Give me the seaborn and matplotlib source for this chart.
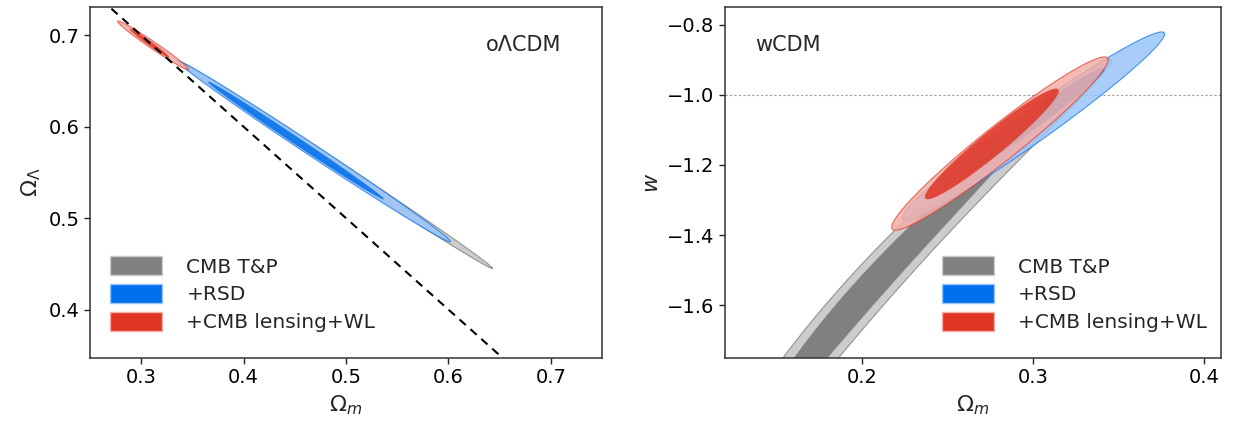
import numpy as np
import matplotlib
matplotlib.use("Agg")
import matplotlib.pyplot as plt
import seaborn as sns
from matplotlib.patches import Patch

sns.set_style("ticks")
plt.rcParams['font.family'] = ['DejaVu Sans']
plt.rcParams['mathtext.fontset'] = 'dejavusans'

# ---------------- data ----------------
labels = ["CMB T&P", "+RSD", "+CMB lensing+WL"]
colors = ["#808080", "#006FED", "#E03424"]
alphas = [1.0, 0.85, 0.85]

# oLCDM panel: one entry per dataset, each [95% contour, 68% contour]
olcdm_cx = [[0.4895, 0.455], [0.4683, 0.451], [0.3116, 0.308]]
olcdm_cy = [[0.5585, 0.580], [0.5734, 0.585], [0.689, 0.6915]]
olcdm_hx = [[0.1535, 0.070], [0.1337, 0.0856], [0.0346, 0.019]]
olcdm_hy = [[0.1135, 0.052], [0.0993, 0.0641], [0.0266, 0.0155]]
olcdm_rho = [[-0.9984, -0.9992], [-0.9969, -0.9975], [-0.9848, -0.985]]
flat_om = [0.25, 0.75]

# wCDM panel: +RSD and +CMB lensing+WL ellipses [95%, 68%]
wcdm_cx = [[0.3003, 0.295], [0.2807, 0.276]]
wcdm_cy = [[-1.089, -1.090], [-1.139, -1.140]]
wcdm_hx = [[0.0767, 0.0468], [0.0633, 0.039]]
wcdm_hy = [[0.268, 0.1665], [0.247, 0.157]]
wcdm_rho = [[0.978, 0.985], [0.966, 0.962]]
# wCDM panel: CMB T&P curved degeneracy band [95%, 68%]
cmb_band_wref = -1.4
cmb_band_x0 = 0.233
cmb_band_slope = 0.198
cmb_band_curv = 0.052
cmb_band_wc = [-1.55, -1.55]
cmb_band_hw = [0.65, 0.42]
cmb_band_hu = [0.0171, 0.011]
w_lcdm = -1.0


def pale(c, f=0.6):
    r = np.array(matplotlib.colors.to_rgb(c))
    return tuple(r * (1 - f) + f)


def ellipse(cx, cy, hx, hy, rho, n=400):
    t = np.linspace(0, 2 * np.pi, n)
    M = np.array([[hx * hx, rho * hx * hy], [rho * hx * hy, hy * hy]])
    L = np.linalg.cholesky(M)
    p = L @ np.vstack([np.cos(t), np.sin(t)])
    return cx + p[0], cy + p[1]


def band(wc, hw, hu, n=600):
    t = np.linspace(0, 2 * np.pi, n)
    v = wc + hw * np.sin(t)
    u = hu * np.cos(t)
    f = cmb_band_x0 + cmb_band_slope * (v - cmb_band_wref) + cmb_band_curv * (v - cmb_band_wref) ** 2
    return f + u, v


def draw(ax, outer, inner, col, a, z):
    ax.fill(*outer, color=pale(col), alpha=a, lw=0, zorder=z)
    ax.plot(*outer, color=col, alpha=a * 0.8, lw=0.8, zorder=z + 0.1)
    ax.fill(*inner, color=col, alpha=a, lw=0, zorder=z + 0.2)
    ax.plot(*inner, color=col, alpha=a * 0.6, lw=0.5, zorder=z + 0.3)


fig = plt.figure(figsize=(12.37, 4.30), dpi=100)
ax1 = fig.add_axes([0.0728, 0.1674, 0.4139, 0.8163])
ax2 = fig.add_axes([0.5861, 0.1674, 0.4010, 0.8163])

# ---- left panel ----
for i in range(3):
    o = ellipse(olcdm_cx[i][0], olcdm_cy[i][0], olcdm_hx[i][0], olcdm_hy[i][0], olcdm_rho[i][0])
    n = ellipse(olcdm_cx[i][1], olcdm_cy[i][1], olcdm_hx[i][1], olcdm_hy[i][1], olcdm_rho[i][1])
    draw(ax1, o, n, colors[i], alphas[i], 2 + i)
fo = np.array(flat_om)
sns.lineplot(x=fo, y=1 - fo, ax=ax1, color="black", lw=1.5, linestyle=(0, (4, 3)), zorder=10)
ax1.set_xlim(0.25, 0.75)
ax1.set_ylim(0.347, 0.731)
ax1.set_xticks([0.3, 0.4, 0.5, 0.6, 0.7])
ax1.set_yticks([0.4, 0.5, 0.6, 0.7])
ax1.set_xlabel(r"$\Omega_m$", fontsize=16)
ax1.set_ylabel(r"$\Omega_\Lambda$", fontsize=16)
ax1.text(0.92, 0.892, "o\u039bCDM", transform=ax1.transAxes, ha="right", va="center", fontsize=15)

# ---- right panel ----
o = band(cmb_band_wc[0], cmb_band_hw[0], cmb_band_hu[0])
n = band(cmb_band_wc[1], cmb_band_hw[1], cmb_band_hu[1])
draw(ax2, o, n, colors[0], alphas[0], 2)
for j in range(2):
    o = ellipse(wcdm_cx[j][0], wcdm_cy[j][0], wcdm_hx[j][0], wcdm_hy[j][0], wcdm_rho[j][0])
    n = ellipse(wcdm_cx[j][1], wcdm_cy[j][1], wcdm_hx[j][1], wcdm_hy[j][1], wcdm_rho[j][1])
    draw(ax2, o, n, colors[j + 1], alphas[j + 1], 3 + j)
ax2.axhline(w_lcdm, color="#999999", ls=(0, (2, 2)), lw=0.8, zorder=1)
ax2.set_xlim(0.12, 0.41)
ax2.set_ylim(-1.75, -0.75)
ax2.set_xticks([0.2, 0.3, 0.4])
ax2.set_yticks([-1.6, -1.4, -1.2, -1.0, -0.8])
ax2.set_xlabel(r"$\Omega_m$", fontsize=16)
ax2.set_ylabel(r"$w$", fontsize=16)
ax2.text(0.06, 0.892, "wCDM", transform=ax2.transAxes, ha="left", va="center", fontsize=15)

for ax, loc, anchor in [(ax1, "lower left", (0.023, 0.051)), (ax2, "lower right", (0.988, 0.051))]:
    handles = [Patch(facecolor=c, edgecolor=pale(c), label=l) for c, l in zip(colors, labels)]
    ax.legend(handles=handles, loc=loc, bbox_to_anchor=anchor, frameon=False, fontsize=14.5,
              handlelength=2.6, handleheight=1.1, labelspacing=0.36, handletextpad=1.2,
              borderaxespad=0.0)
    ax.tick_params(labelsize=14, direction="out", length=4, width=1, colors="#222222",
                   labelcolor="black")
    for s in ax.spines.values():
        s.set_linewidth(1.1)
        s.set_color("#333333")
        s.set_visible(True)

fig.savefig("out.png", dpi=100)
